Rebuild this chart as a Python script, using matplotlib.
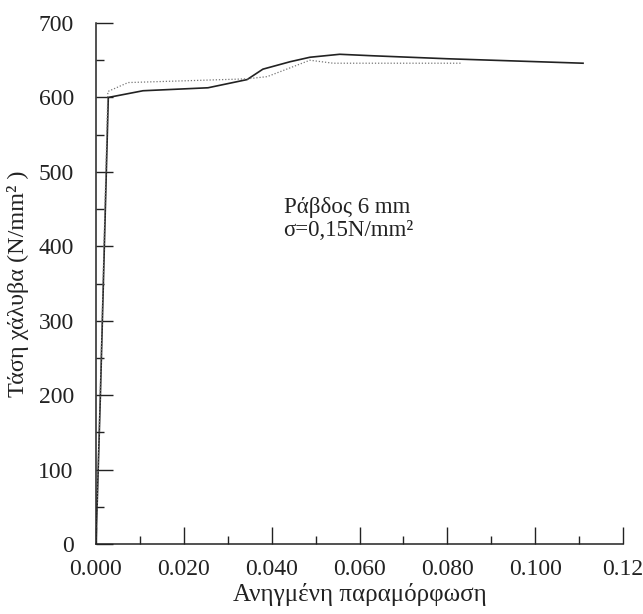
import numpy as np
import matplotlib.pyplot as plt
from matplotlib.ticker import MultipleLocator

# strain / stress values
strain_solid = [0.0, 0.0010, 0.0028, 0.0107, 0.0255, 0.0344, 0.0380, 0.0442,
                0.0487, 0.0555, 0.0630, 0.0800, 0.1109]
stress_solid = [0, 200, 600, 609, 613, 624, 638, 648, 654, 658, 656, 652, 646]

strain_dot = [0.0, 0.0010, 0.0027, 0.0073, 0.0344, 0.0390, 0.0487, 0.0540, 0.0833]
stress_dot = [0, 210, 608, 620, 625, 628, 650, 646, 646]

xticks = [0.0, 0.02, 0.04, 0.06, 0.08, 0.10, 0.12]
xticklabels = ["0.000", "0.020", "0.040", "0.060", "0.080", "0.100", "0.12"]
yticks = [0, 100, 200, 300, 400, 500, 600, 700]

plt.rcParams['font.family'] = ['Liberation Serif', 'DejaVu Serif']

fig = plt.figure(figsize=(6.43, 6.14), dpi=100)
ax = fig.add_axes([0.1493, 0.114, 0.8196, 0.8485])

ax.plot(strain_solid, stress_solid, color='#222222', lw=1.2)
ax.plot(strain_dot, stress_dot, color='#777777', lw=0.9, ls=(0, (1, 1.5)))

ax.set_xlim(0, 0.12)
ax.set_ylim(0, 700)
ax.set_xticks(xticks)
ax.set_xticklabels(xticklabels)
ax.set_yticks(yticks)
ax.xaxis.set_minor_locator(MultipleLocator(0.01))
ax.yaxis.set_minor_locator(MultipleLocator(50))

ax.spines['top'].set_visible(False)
ax.spines['right'].set_visible(False)
for s in ['left', 'bottom']:
    ax.spines[s].set_color('#222222')
    ax.spines[s].set_linewidth(1.1)

ax.tick_params(which='major', direction='in', length=12, width=1, color='#222222',
               labelsize=17, labelcolor='#222222')
ax.tick_params(which='minor', direction='in', length=6, width=1, color='#222222')
ax.tick_params(axis='y', which='major', pad=16)
ax.tick_params(axis='x', which='major', pad=11)

ax.set_xlabel("Ανηγμένη παραμόρφωση", fontsize=18, color='#222222', labelpad=2)
ax.set_ylabel("Τάση χάλυβα (N/mm² )", fontsize=17.5, color='#222222', labelpad=7)

ax.text(0.0427, 437, "Ράβδος 6 mm\nσ=0,15N/mm²", fontsize=16.5, color='#222222',
        va='center', ha='left', linespacing=1.15)

fig.savefig("out.png", dpi=100)
